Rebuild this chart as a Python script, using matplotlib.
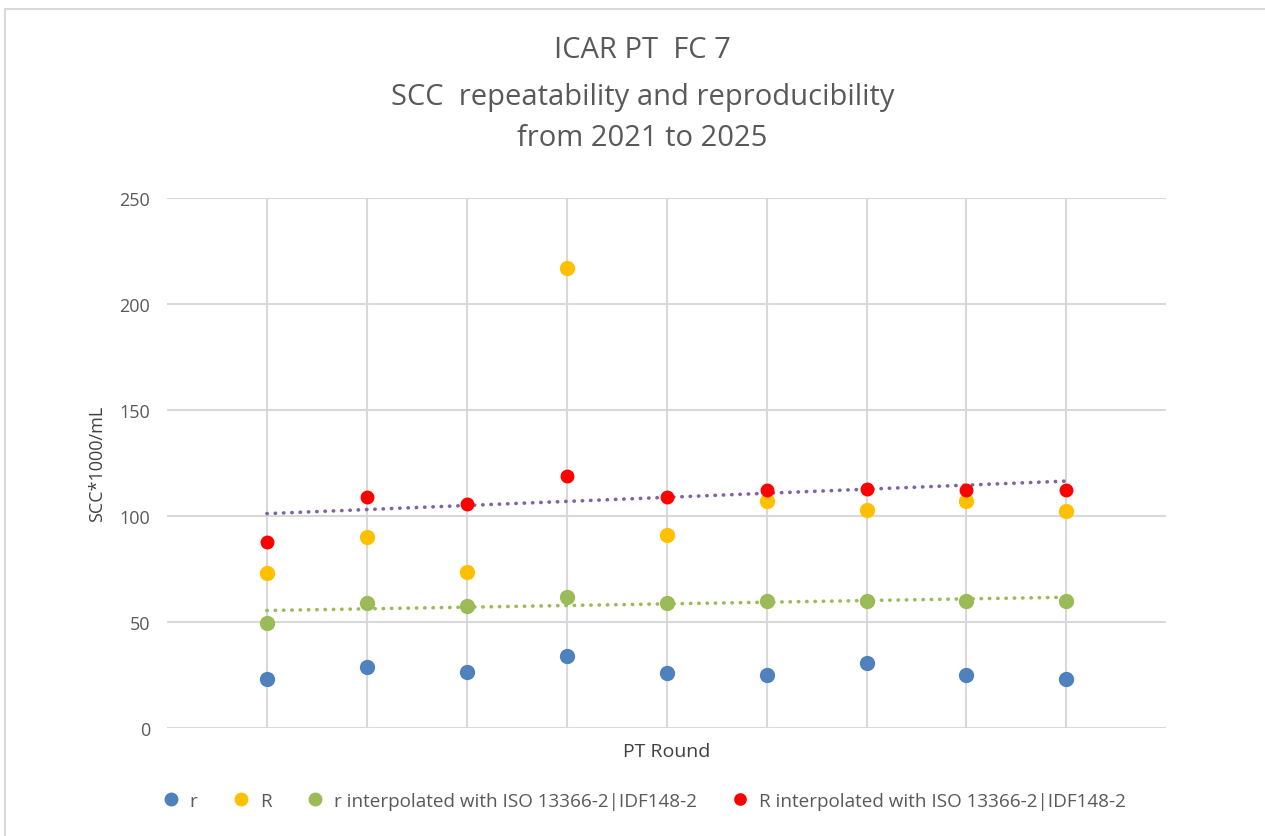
import numpy as np
import matplotlib
matplotlib.use("Agg")
import matplotlib.pyplot as plt
from matplotlib.patches import Rectangle

rounds = [1, 2, 3, 4, 5, 6, 7, 8, 9]
r_vals = [23.1, 28.9, 26.6, 34.1, 25.9, 24.8, 30.7, 24.8, 23.1]
R_vals = [73.0, 90.2, 73.4, 217.1, 91.2, 106.9, 102.8, 106.9, 102.2]
r_iso = [49.7, 59.0, 57.7, 61.9, 59.0, 60.0, 60.0, 60.0, 60.0]
R_iso = [87.9, 108.8, 105.7, 119.0, 108.8, 112.3, 112.6, 112.3, 112.3]

labels = ["r", "R", "r interpolated with ISO 13366-2|IDF148-2",
          "R interpolated with ISO 13366-2|IDF148-2"]
colors = ["#4F81BD", "#FFC000", "#9BBB59", "#FF0000"]

plt.rcParams['font.family'] = ['Open Sans', 'DejaVu Sans']

fig = plt.figure(figsize=(12.65, 8.37), dpi=100)
ax = fig.add_axes([0.132, 0.129, 0.79, 0.633])

# outer chart border (only top/left visible in the original crop)
fig.patches.append(Rectangle((0.004, -0.1), 1.2, 1.088, transform=fig.transFigure,
                             fill=False, edgecolor="#D9D9D9", linewidth=1.5))

ax.set_xlim(0, 10)
ax.set_ylim(0, 250)
ax.set_xticks(rounds)
ax.set_xticklabels([])
ax.set_yticks([0, 50, 100, 150, 200, 250])
ax.tick_params(axis="both", length=0, labelsize=13, labelcolor="#595959", pad=12)
ax.grid(True, color="#D9D9D9", linewidth=1.5)
ax.set_axisbelow(True)
for s in ax.spines.values():
    s.set_visible(False)

x = np.array(rounds)
ax.plot(x, r_vals, "o", color=colors[0], markersize=10, label=labels[0])
ax.plot(x, R_vals, "o", color=colors[1], markersize=10, label=labels[1])
ax.plot(x, r_iso, "o", color=colors[2], markersize=10, label=labels[2])
ax.plot(x, R_iso, "o", color=colors[3], markersize=9, label=labels[3])

# linear trend lines
dots = (0, (0.1, 2.2))
k, b = np.polyfit(x, r_iso, 1)
ax.plot([x[0], x[-1]], [k * x[0] + b, k * x[-1] + b], linestyle=dots,
        color="#9BBB59", linewidth=2.6, dash_capstyle="round", zorder=1.5)
k, b = np.polyfit(x, R_iso, 1)
ax.plot([x[0], x[-1]], [k * x[0] + b, k * x[-1] + b], linestyle=dots,
        color="#8064A2", linewidth=2.6, dash_capstyle="round", zorder=1.5)

ax.set_ylabel("SCC*1000/mL", fontsize=13, color="#404040", labelpad=10)
ax.set_xlabel("PT Round", fontsize=14, color="#404040", labelpad=-2)

for txt, yy in [("ICAR PT  FC 7", 0.94),
                ("SCC  repeatability and reproducibility", 0.884),
                ("from 2021 to 2025", 0.835)]:
    fig.text(0.508, yy, txt, ha="center", va="center", fontsize=21, color="#595959")

fig.legend(loc="center", bbox_to_anchor=(0.505, 0.042), ncol=4, frameon=False,
           fontsize=13.6, handletextpad=0.0, columnspacing=1.3, markerscale=0.9,
           labelcolor="#595959")

fig.savefig("out.png", dpi=100)
